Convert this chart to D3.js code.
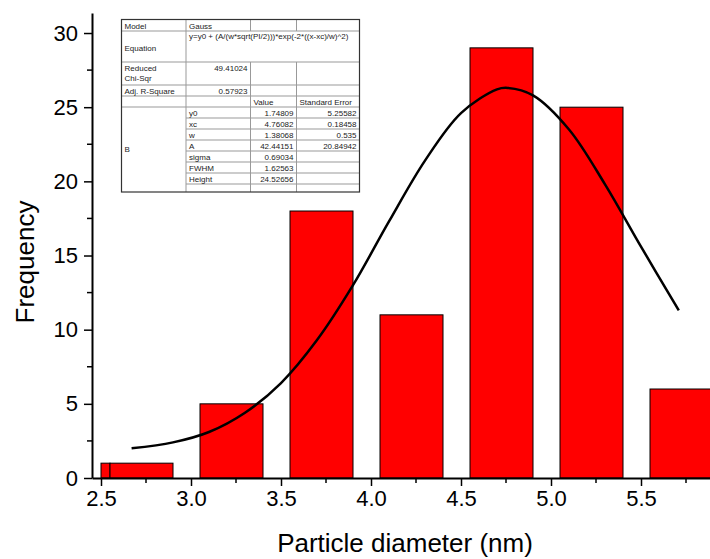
<!DOCTYPE html>
<html>
<head>
<meta charset="utf-8">
<title>Particle size histogram</title>
<style>
  body { margin: 0; background: #fff; }
  svg { display: block; font-family: "Liberation Sans", Arial, sans-serif; }
  .axis path, .axis line { stroke: #000; }
  .tbl text { font-size: 8px; fill: #222; }
</style>
</head>
<body>
<svg width="710" height="559"></svg>
<script src="https://d3js.org/d3.v7.min.js"></script>
<script>

// histogram bins (nm) and counts
var binStart = [2.5, 2.55, 3.05, 3.55, 4.05, 4.55, 5.05, 5.55];
var binEnd   = [2.55, 2.9, 3.4, 3.9, 4.4, 4.9, 5.4, 5.9];
var counts   = [1, 1, 5, 18, 11, 29, 25, 6];

// gauss fit line
var fitX = [2.67, 2.9, 3.1, 3.3, 3.5, 3.7, 3.9, 4.1, 4.3, 4.5, 4.7, 4.76, 4.9, 5.1, 5.3, 5.5, 5.71];
var fitY = [2.0, 2.4, 3.1, 4.4, 6.4, 9.3, 13.0, 17.3, 21.4, 24.6, 26.2, 26.3, 25.8, 23.5, 19.8, 15.6, 11.3];

var xTicks = [2.5, 3.0, 3.5, 4.0, 4.5, 5.0, 5.5];
var xMinor = [2.75, 3.25, 3.75, 4.25, 4.75, 5.25, 5.75];
var yTicks = [0, 5, 10, 15, 20, 25, 30];
var yMinor = [2.5, 7.5, 12.5, 17.5, 22.5, 27.5];

// fit report table
var paramNames  = ["y0", "xc", "w", "A", "sigma", "FWHM", "Height"];
var paramValues = ["1.74809", "4.76082", "1.38068", "42.44151", "0.69034", "1.62563", "24.52656"];
var paramErrors = ["5.25582", "0.18458", "0.535", "20.84942", "", "", ""];

var svg = d3.select("svg");

var x = d3.scaleLinear().domain([2.45, 5.9]).range([92, 713]);
var y = d3.scaleLinear().domain([0, 31.35]).range([478, 13]);

var bars = binStart.map(function(s, i) { return {x0: s, x1: binEnd[i], n: counts[i]}; });

svg.append("g")
  .selectAll("rect")
  .data(bars)
  .enter().append("rect")
    .attr("x", function(d) { return x(d.x0); })
    .attr("y", function(d) { return y(d.n); })
    .attr("width", function(d) { return x(d.x1) - x(d.x0); })
    .attr("height", function(d) { return y(0) - y(d.n); })
    .attr("fill", "#ff0000")
    .attr("stroke", "#000")
    .attr("stroke-width", 1);

// fit curve
var line = d3.line()
  .x(function(d) { return x(d[0]); })
  .y(function(d) { return y(d[1]); })
  .curve(d3.curveCatmullRom);

svg.append("path")
  .datum(d3.zip(fitX, fitY))
  .attr("d", line)
  .attr("fill", "none")
  .attr("stroke", "#000")
  .attr("stroke-width", 2.5);

// axes
var xAxis = svg.append("g").attr("class", "axis").attr("transform", "translate(0,478)")
  .call(d3.axisBottom(x).tickValues(xTicks).tickFormat(d3.format(".1f")).tickSizeInner(8).tickSizeOuter(0).tickPadding(4));
xAxis.select(".domain").attr("stroke-width", 2);
xAxis.selectAll(".tick line").attr("stroke-width", 1.5);
xAxis.selectAll("text").attr("font-size", 22).attr("font-family", "Liberation Sans, Arial").attr("fill", "#000");
xAxis.selectAll(".minor").data(xMinor).enter().append("line")
  .attr("x1", function(d) { return x(d); }).attr("x2", function(d) { return x(d); })
  .attr("y1", 0).attr("y2", 5).attr("stroke", "#000").attr("stroke-width", 1.5);

var yAxis = svg.append("g").attr("class", "axis").attr("transform", "translate(92,0)")
  .call(d3.axisLeft(y).tickValues(yTicks).tickSizeInner(8).tickSizeOuter(0).tickPadding(6));
yAxis.select(".domain").attr("stroke-width", 2);
yAxis.selectAll(".tick line").attr("stroke-width", 1.5);
yAxis.selectAll("text").attr("font-size", 22).attr("font-family", "Liberation Sans, Arial").attr("fill", "#000");
yAxis.selectAll(".minor").data(yMinor).enter().append("line")
  .attr("y1", function(d) { return y(d); }).attr("y2", function(d) { return y(d); })
  .attr("x1", 0).attr("x2", -5).attr("stroke", "#000").attr("stroke-width", 1.5);

// titles
svg.append("text")
  .attr("x", 405).attr("y", 552)
  .attr("text-anchor", "middle")
  .attr("font-size", 26)
  .text("Particle diameter (nm)");

svg.append("text")
  .attr("transform", "translate(34,262) rotate(-90)")
  .attr("text-anchor", "middle")
  .attr("font-size", 26)
  .text("Frequency");

// fit table
var colX = [121.5, 186, 250.5, 296.5, 359.5];
var rowY = [19.5, 31, 62, 85, 96, 107];
var rowH = 11;
var tbl = svg.append("g").attr("class", "tbl");
tbl.append("rect").attr("x", colX[0]).attr("y", rowY[0])
  .attr("width", colX[4] - colX[0]).attr("height", 192 - rowY[0])
  .attr("fill", "#fff").attr("stroke", "none");

function hline(x1, x2, yy) {
  tbl.append("line").attr("x1", x1).attr("x2", x2).attr("y1", yy).attr("y2", yy)
    .attr("stroke", "#999").attr("stroke-width", 1);
}
function vline(xx, y1, y2) {
  tbl.append("line").attr("x1", xx).attr("x2", xx).attr("y1", y1).attr("y2", y2)
    .attr("stroke", "#999").attr("stroke-width", 1);
}
rowY.slice(1).forEach(function(r) { hline(colX[0], colX[4], r); });
paramNames.forEach(function(p, i) { hline(colX[1], colX[4], rowY[5] + rowH * (i + 1)); });
vline(colX[1], rowY[0], 192);
vline(colX[2], rowY[0], rowY[1]); vline(colX[3], rowY[0], rowY[1]);
vline(colX[2], rowY[2], 192); vline(colX[3], rowY[2], 192);
tbl.append("rect").attr("x", colX[0]).attr("y", rowY[0])
  .attr("width", colX[4] - colX[0]).attr("height", 192 - rowY[0])
  .attr("fill", "none").attr("stroke", "#333").attr("stroke-width", 1.2);

function cell(txt, xx, yy, anchor) {
  tbl.append("text").attr("x", xx).attr("y", yy).attr("text-anchor", anchor || "start").text(txt);
}
cell("Model", colX[0] + 3, 28.5);
cell("Gauss", colX[1] + 3, 28.5);
cell("y=y0 + (A/(w*sqrt(PI/2)))*exp(-2*((x-xc)/w)^2)", colX[1] + 3, 39);
cell("Equation", colX[0] + 3, 50.5);
cell("Reduced", colX[0] + 3, 70.5);
cell("Chi-Sqr", colX[0] + 3, 81);
cell("49.41024", colX[2] - 3, 70.5, "end");
cell("Adj. R-Square", colX[0] + 3, 93.5);
cell("0.57923", colX[2] - 3, 93.5, "end");
cell("Value", colX[2] + 3, 104.5);
cell("Standard Error", colX[3] + 3, 104.5);
cell("B", colX[0] + 3, 152);
paramNames.forEach(function(p, i) {
  var yy = rowY[5] + rowH * i + 8.5;
  cell(p, colX[1] + 3, yy);
  cell(paramValues[i], colX[3] - 3, yy, "end");
  cell(paramErrors[i], colX[4] - 3, yy, "end");
});

</script>
</body>
</html>
